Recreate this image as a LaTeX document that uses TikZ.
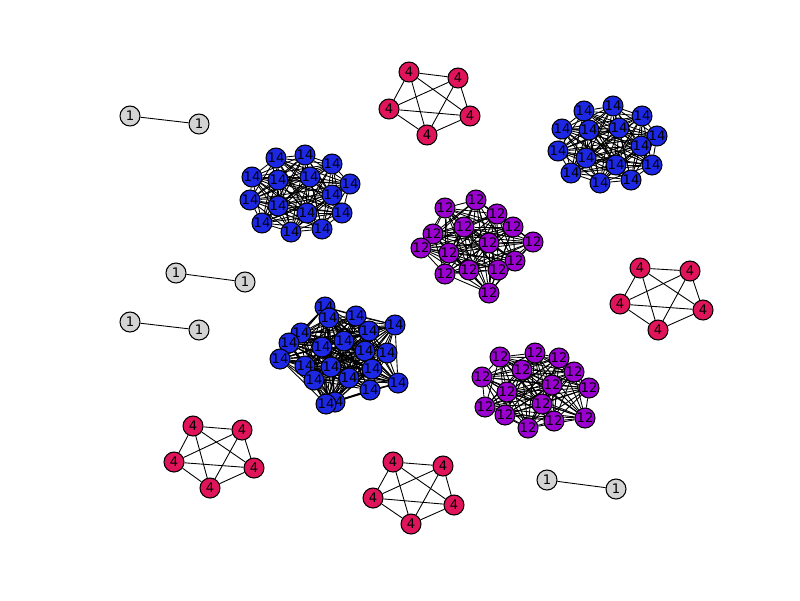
\documentclass[tikz,border=0pt]{standalone}
\usepackage{fontspec}
\setmainfont{DejaVu Sans}
\usetikzlibrary{backgrounds}
\definecolor{cone}{HTML}{D3D3D3}
\definecolor{cfour}{HTML}{E0145A}
\definecolor{ctwelve}{HTML}{9A00D0}
\definecolor{cfourteen}{HTML}{1C28E4}
\tikzset{vtx/.style={circle, draw=black, line width=0.6pt, minimum size=0.4cm, inner sep=0pt, font=\fontsize{7.5}{8}\selectfont}}

% prefix, fill, label, list of x/y
\newcommand{\cluster}[4]{%
  \foreach \x/\y [count=\n] in {#4} {
    \node[vtx, fill=#2] (#1\n) at (\x,\y) {#3};
    \xdef\clsize{\n}
  }
  \begin{pgfonlayer}{background}
    \foreach \i in {1,...,\clsize} \foreach \j in {1,...,\clsize} {
      \ifnum\i<\j \draw[line width=0.5pt] (#1\i) -- (#1\j); \fi
    }
  \end{pgfonlayer}
}

\begin{document}
\begin{tikzpicture}[x=0.02cm, y=-0.02cm]
    \useasboundingbox (0,0) rectangle (800,600);
    % pairs
    \cluster{pa}{cone}{1}{130/116, 199/124}
    \cluster{pb}{cone}{1}{176/273, 245/282}
    \cluster{pc}{cone}{1}{130/322, 199/330}
    \cluster{pd}{cone}{1}{547/480, 616/489}
    % five-cliques
    \cluster{fa}{cfour}{4}{409/72, 458/78, 389/109, 470/116, 427/135}
    \cluster{fb}{cfour}{4}{640/268, 690/271, 620/304, 703/310, 658/330}
    \cluster{fc}{cfour}{4}{193/426, 242/430, 174/462, 254/468, 210/488}
    \cluster{fd}{cfour}{4}{393/462, 443/466, 373/498, 454/505, 411/524}
    % dense groups
    \cluster{ba}{cfourteen}{14}{276/158, 305/155, 332/164, 252/177, 278/180, 310/177, 350/184,
        250/200, 278/206, 332/195, 307/213, 342/213, 262/223, 291/232, 322/229}
    \cluster{bb}{cfourteen}{14}{584/111, 613/106, 642/116, 562/129, 589/130, 619/128, 657/136,
        558/151, 586/158, 641/146, 616/165, 652/165, 571/173, 600/183, 631/180}
    \cluster{bc}{cfourteen}{14}{325/307, 329/318, 356/316, 395/325, 301/333, 369/331, 289/343,
        322/347, 344/341, 365/351, 387/353, 280/359, 305/366, 331/367, 372/369, 314/380,
        349/378, 398/383, 370/390, 335/402, 326/404}
    \cluster{ta}{ctwelve}{12}{445/208, 476/200, 497/214, 513/227, 433/234, 464/227, 533/242,
        421/248, 449/253, 489/243, 515/261, 445/274, 469/270, 498/270, 489/293}
    \cluster{tb}{ctwelve}{12}{500/357, 535/353, 559/358, 482/377, 522/370, 574/372, 507/392,
        552/385, 589/388, 485/407, 542/404, 505/415, 528/428, 554/421, 585/418}
\end{tikzpicture}
\end{document}
